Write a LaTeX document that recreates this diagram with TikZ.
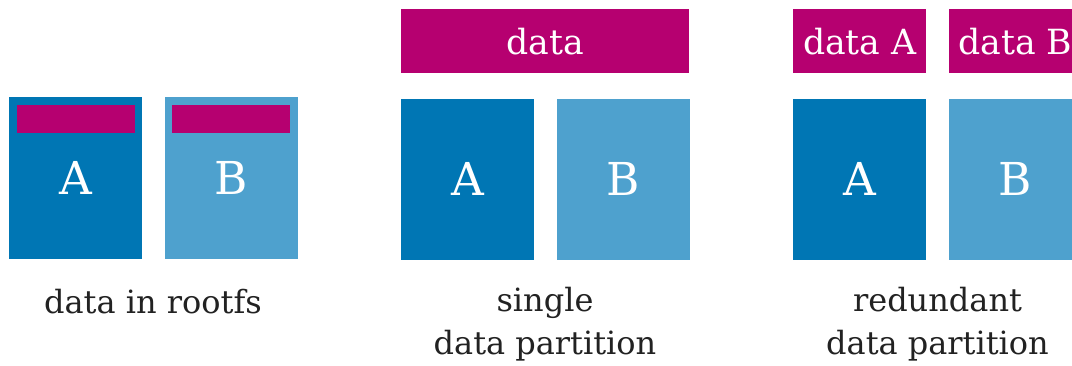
\documentclass[tikz,border=0pt]{standalone}
\usepackage{fontspec}
\setmainfont{DejaVu Serif}
\usetikzlibrary{positioning}

\definecolor{slotA}{RGB}{0,118,180}
\definecolor{slotB}{RGB}{78,161,206}
\definecolor{datapart}{RGB}{182,0,112}
\definecolor{captext}{RGB}{34,34,34}

\begin{document}
\begin{tikzpicture}[%
            x=0.75pt, y=-0.75pt,
            node distance=16.5pt,
            slot/.style={rectangle, inner sep=0pt, minimum width=99.75pt, minimum height=121pt,
                text=white, font=\fontsize{34}{40}\selectfont},
            slota/.style={slot, fill=slotA},
            slotb/.style={slot, fill=slotB},
            part/.style={rectangle, inner sep=0pt, fill=datapart, minimum height=48pt,
                text=white, font=\fontsize{26}{30}\selectfont},
            inner/.style={rectangle, inner sep=0pt, fill=datapart, minimum width=88.5pt, minimum height=21pt},
            caption/.style={align=center, anchor=north, inner sep=0pt, text=captext,
                font=\fontsize{24}{32.25}\selectfont}
            ]
            \useasboundingbox (0,0) rectangle (1072,366);

            % data in rootfs
            \node[slota, anchor=north west] (a1) at (9,97) {A};
            \node[slotb, right=of a1] (b1) {B};
            \node[inner, below=6pt of a1.north] (da1) {};
            \node[inner, below=6pt of b1.north] (db1) {};
            \node[caption] (c1) at (153,289) {data in rootfs};

            % single data partition
            \node[part, minimum width=216pt, anchor=north west] (d2) at (401,9) {data};
            \node[slota, below right=18.75pt and 0pt of d2.south west] (a2) {A};
            \node[slotb, right=of a2] (b2) {B};
            \node[caption] (c2) at (545,287) {single\\data partition};

            % redundant data partition
            \node[part, minimum width=99.75pt, anchor=north west] (da3) at (793,9) {data A};
            \node[part, minimum width=99.75pt, right=of da3] (db3) {data B};
            \node[slota, below right=18.75pt and 0pt of da3.south west] (a3) {A};
            \node[slotb, right=of a3] (b3) {B};
            \node[caption] (c3) at (937.5,287) {redundant\\data partition};
        \end{tikzpicture}
\end{document}
